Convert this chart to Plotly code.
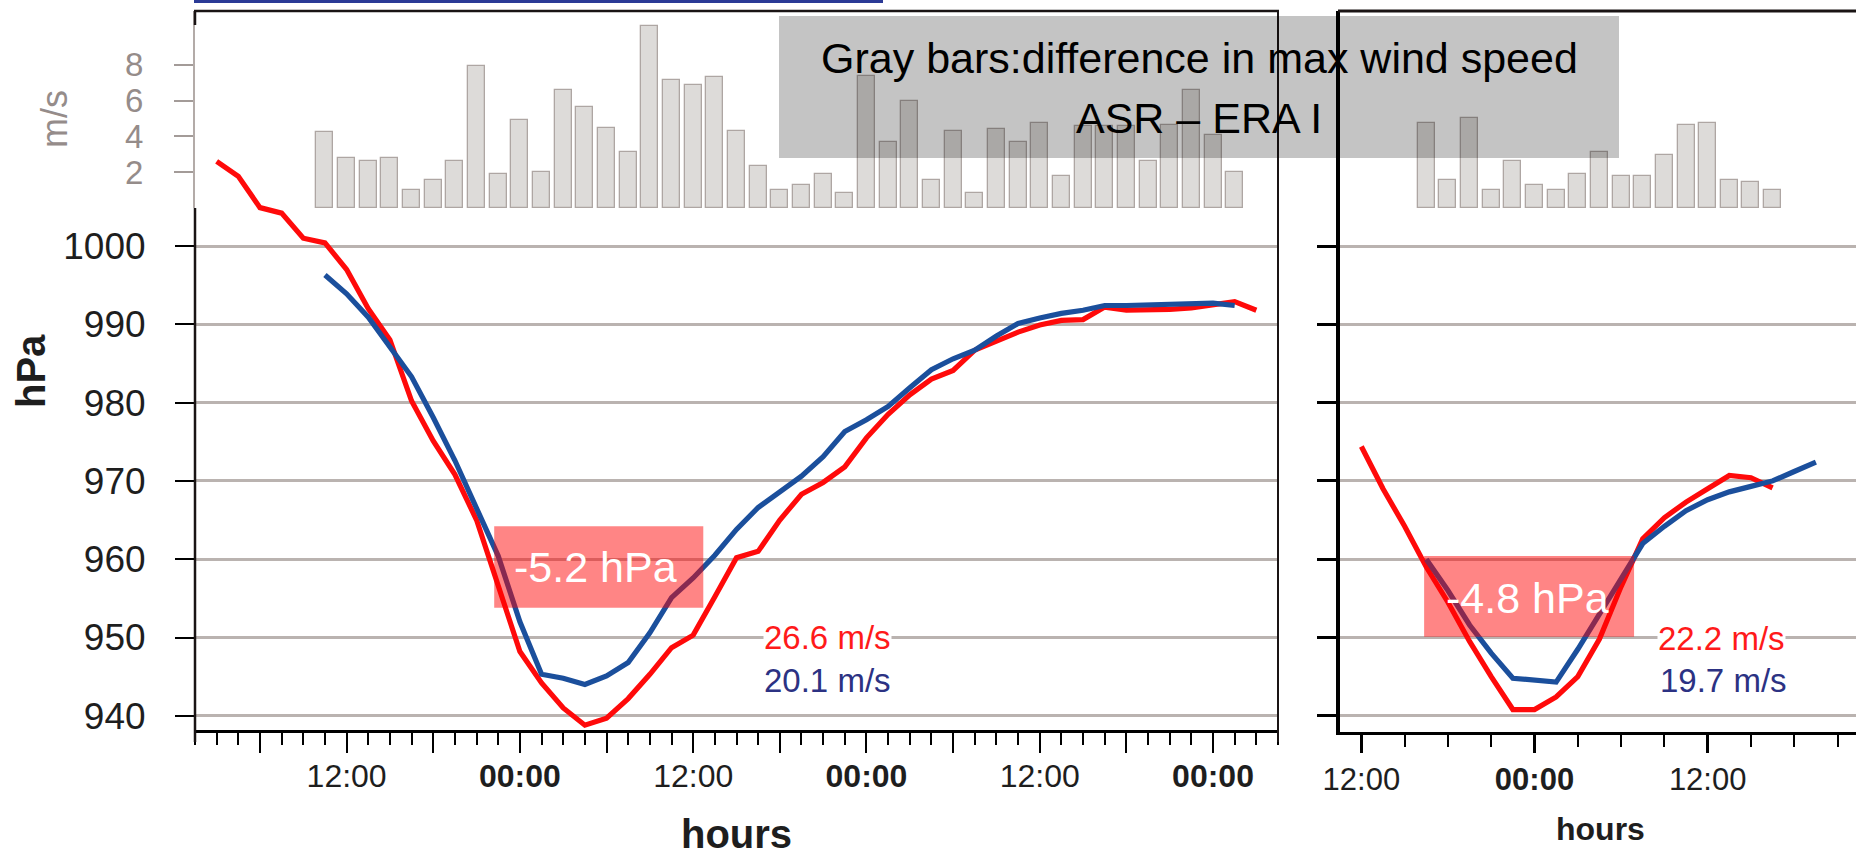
import plotly.graph_objects as go

W, H = 1856, 855
FONT = "Liberation Sans, Arial, sans-serif"

# ---------------------------------------------------------------- data
# Left storm: hours relative to the first 00:00 on the axis
red_l_hours = [-21, -19.5, -18, -16.5, -15, -13.5, -12, -10.5, -9, -7.5,
               -6, -4.5, -3, -1.5, 0, 1.5, 3, 4.5, 6, 7.5,
               9, 10.5, 12, 13.5, 15, 16.5, 18, 19.5, 21, 22.5,
               24, 25.5, 27, 28.5, 30, 31.5, 33, 34.5, 36, 37.5,
               39, 40.5, 42, 43.5, 45, 46.5, 48, 49.5, 51]
red_l_hpa = [1010.8, 1008.9, 1004.9, 1004.2, 1001.0, 1000.4, 997.0, 992.0, 988.0, 980.2,
             975.1, 970.8, 965.0, 956.5, 948.2, 944.2, 941.0, 938.8, 939.7, 942.2,
             945.3, 948.7, 950.3, 955.2, 960.2, 961.0, 965.0, 968.3, 969.8, 971.8,
             975.5, 978.5, 981.0, 983.0, 984.1, 986.7, 987.8, 989.0, 989.9, 990.5,
             990.6, 992.2, 991.8, 991.8, 991.9, 992.1, 992.5, 992.9, 991.8]

blue_l_hours = [-13.5, -12, -10.5, -9, -7.5, -6, -4.5, -3, -1.5, 0,
                1.5, 3, 4.5, 6, 7.5, 9, 10.5, 12, 13.5, 15,
                16.5, 18, 19.5, 21, 22.5, 24, 25.5, 27, 28.5, 30,
                31.5, 33, 34.5, 36, 37.5, 39, 40.5, 42, 43.5, 45,
                46.5, 48, 49.5]
blue_l_hpa = [996.3, 993.9, 990.9, 987.2, 983.3, 978.1, 972.6, 966.5, 960.4, 952.0,
              945.3, 944.8, 944.0, 945.1, 946.8, 950.6, 955.1, 957.6, 960.5, 963.8,
              966.6, 968.6, 970.6, 973.1, 976.3, 977.8, 979.5, 981.9, 984.2, 985.6,
              986.7, 988.5, 990.1, 990.8, 991.4, 991.8, 992.4, 992.4, 992.5, 992.6,
              992.7, 992.7, 992.4]

# max wind speed difference ASR - ERA I (m/s), same times as the blue series
bars_l = [4.23, 2.77, 2.64, 2.77, 0.99, 1.58, 2.64, 7.91, 1.90, 4.90,
          2.03, 6.57, 5.66, 4.45, 3.11, 10.15, 7.17, 6.85, 7.30, 4.28,
          2.33, 0.99, 1.28, 1.90, 0.84, 7.39, 3.67, 5.96, 1.58, 4.28,
          0.84, 4.43, 3.69, 4.75, 1.77, 4.56, 4.56, 4.56, 2.64, 4.66,
          6.57, 4.10, 1.99]

# Right storm
red_r_hours = [-12, -10.5, -9, -7.5, -6, -4.5, -3, -1.5, 0, 1.5,
               3, 4.5, 6, 7.5, 9, 10.5, 12, 13.5, 15, 16.5]
red_r_hpa = [974.4, 969.0, 964.2, 959.0, 954.5, 949.5, 945.0, 940.8, 940.8, 942.4,
             945.0, 949.8, 956.5, 962.6, 965.3, 967.3, 969.0, 970.7, 970.4, 969.1]

blue_r_hours = [-7.5, -6, -4.5, -3, -1.5, 0, 1.5, 3, 4.5, 6,
                7.5, 9, 10.5, 12, 13.5, 15, 16.5, 18, 19.5]
blue_r_hpa = [960.0, 956.0, 951.6, 948.0, 944.8, 944.5, 944.3, 948.5, 953.0, 957.8,
              962.0, 964.2, 966.2, 967.6, 968.6, 969.3, 970.0, 971.2, 972.4]

bar_r_hours = [-7.5, -6, -4.5, -3, -1.5, 0, 1.5, 3, 4.5, 6,
               7.5, 9, 10.5, 12, 13.5, 15, 16.5]
bars_r = [4.75, 1.58, 5.03, 0.99, 2.64, 1.28, 0.99, 1.90, 3.11, 1.77,
          1.77, 2.98, 4.62, 4.75, 1.58, 1.43, 0.99]

hpa_ticks = [940, 950, 960, 970, 980, 990, 1000]
ms_ticks = [2, 4, 6, 8]
l_major = [-18, -12, -6, 0, 6, 12, 18, 24, 30, 36, 42, 48]
l_major_text = ["", "12:00", "", "<b>00:00</b>", "", "12:00", "", "<b>00:00</b>",
                "", "12:00", "", "<b>00:00</b>"]
r_major = [-12, 0, 12]
r_major_text = ["12:00", "<b>00:00</b>", "12:00"]

RED = "#ff0a0a"
BLUE = "#1b4f9c"
BAR_FILL = "#dddbd9"
BAR_EDGE = "#aea6a3"
GRID = "#bab3b0"
MS_GRAY = "#958c8a"
INK = "#1e1e1e"

# ---------------------------------------------------------------- layout geometry (pixels)
L_X0, L_X1 = 195, 1278
R_X0 = 1340
TOP_L, TOP_R = 11, 11
BAR_BASE = 208
L_BOT, R_BOT = 730, 732
Y1000, PX_PER_HPA = 246, 7.83
PX_PER_MS = 17.9
L_T = [-22.5, 52.5]
R_T = [-13.48, 22.28]


def fx(p):
    return p / W


def fy(p):
    return 1 - p / H


def hpa_range(top, bot):
    return [1000 - (bot - Y1000) / PX_PER_HPA, 1000 + (Y1000 - top) / PX_PER_HPA]


fig = go.Figure()

# wind-difference bars
for xs, ys, xa, ya in [(blue_l_hours, bars_l, "x", "y3"), (bar_r_hours, bars_r, "x2", "y4")]:
    fig.add_trace(go.Bar(x=xs, y=ys, xaxis=xa, yaxis=ya, width=1.18,
                         marker=dict(color=BAR_FILL, line=dict(color=BAR_EDGE, width=1.3)),
                         showlegend=False))

# pressure curves
for xs, ys, col, xa, ya in [
    (red_l_hours, red_l_hpa, RED, "x", "y"),
    (blue_l_hours, blue_l_hpa, BLUE, "x", "y"),
    (red_r_hours, red_r_hpa, RED, "x2", "y2"),
    (blue_r_hours, blue_r_hpa, BLUE, "x2", "y2"),
]:
    fig.add_trace(go.Scatter(x=xs, y=ys, mode="lines", xaxis=xa, yaxis=ya,
                             line=dict(color=col, width=5.2), showlegend=False))

fig.update_layout(
    template="none",
    width=W, height=H,
    margin=dict(l=0, r=0, t=0, b=0, autoexpand=False),
    paper_bgcolor="white",
    plot_bgcolor="rgba(0,0,0,0)",
    font=dict(family=FONT, color=INK),
    bargap=0,
    xaxis=dict(domain=[fx(L_X0), fx(L_X1)], range=L_T, anchor="y", automargin=False,
               showline=True, linecolor="black", linewidth=2.5,
               showgrid=False, zeroline=False,
               tickmode="array", tickvals=l_major, ticktext=l_major_text,
               ticks="outside", ticklen=20, tickwidth=2, tickcolor="black",
               ticklabelstandoff=-4, tickfont=dict(family=FONT, size=32, color=INK),
               minor=dict(ticks="outside", dtick=1.5, tick0=0, ticklen=12,
                          tickwidth=1.5, tickcolor="black", showgrid=False)),
    yaxis=dict(domain=[fy(L_BOT), fy(TOP_L)], range=hpa_range(TOP_L, L_BOT), anchor="x",
               automargin=False, showline=False, zeroline=False,
               tickmode="array", tickvals=hpa_ticks,
               ticks="outside", ticklen=19, tickwidth=2, tickcolor="black",
               ticklabelstandoff=22,
               tickfont=dict(family=FONT, size=37, color=INK),
               showgrid=True, gridcolor=GRID, gridwidth=2.5),
    yaxis3=dict(domain=[fy(BAR_BASE), fy(TOP_L)], range=[0, (BAR_BASE - TOP_L) / PX_PER_MS],
                anchor="x", automargin=False, showline=True, linecolor="#b3aba8", linewidth=2,
                zeroline=False, showgrid=False,
                tickmode="array", tickvals=ms_ticks,
                ticks="outside", ticklen=19, tickwidth=2, tickcolor="#a39b98",
                ticklabelstandoff=24,
                tickfont=dict(family=FONT, size=33, color=MS_GRAY)),
    xaxis2=dict(domain=[fx(R_X0), 1], range=R_T, anchor="y2", automargin=False,
                showline=True, linecolor="black", linewidth=3,
                showgrid=False, zeroline=False,
                tickmode="array", tickvals=r_major, ticktext=r_major_text,
                ticks="outside", ticklen=18, tickwidth=2.5, tickcolor="black",
                ticklabelstandoff=0, tickfont=dict(family=FONT, size=31, color=INK),
                minor=dict(ticks="outside", dtick=3, tick0=0, ticklen=12,
                           tickwidth=2, tickcolor="black", showgrid=False)),
    yaxis2=dict(domain=[fy(R_BOT), fy(TOP_R)], range=hpa_range(TOP_R, R_BOT), anchor="x2",
                automargin=False, showline=True, linecolor="black", linewidth=4,
                zeroline=False,
                tickmode="array", tickvals=hpa_ticks, showticklabels=False,
                ticks="outside", ticklen=19, tickwidth=2.5, tickcolor="black",
                showgrid=True, gridcolor=GRID, gridwidth=2.5),
    yaxis4=dict(domain=[fy(BAR_BASE), fy(TOP_R)], range=[0, (BAR_BASE - TOP_R) / PX_PER_MS],
                anchor="x2", visible=False),
)

# frames and overlay boxes
shapes = [
    # thin rule across the top
    dict(type="line", xref="paper", yref="paper", x0=fx(194), x1=fx(883), y0=fy(1.5), y1=fy(1.5),
         line=dict(color="#2b3a96", width=3)),
    # left panel frame (right edge runs down past the axis like a tick)
    dict(type="line", xref="paper", yref="paper", x0=fx(194), x1=fx(1279), y0=fy(TOP_L), y1=fy(TOP_L),
         line=dict(color="#1a1414", width=2.5)),
    dict(type="line", xref="paper", yref="paper", x0=fx(1278), x1=fx(1278), y0=fy(TOP_L), y1=fy(742),
         line=dict(color="#1a1414", width=2)),
    dict(type="line", xref="paper", yref="paper", x0=fx(L_X0), x1=fx(L_X0), y0=fy(BAR_BASE), y1=fy(742),
         line=dict(color="#1a1414", width=2.5)),
    dict(type="line", xref="paper", yref="paper", x0=fx(L_X0), x1=fx(L_X0), y0=fy(TOP_L), y1=fy(25),
         line=dict(color="#1a1414", width=2.5)),
    # right panel top frame
    dict(type="line", xref="paper", yref="paper", x0=fx(1338), x1=1, y0=fy(TOP_R), y1=fy(TOP_R),
         line=dict(color="#1a1414", width=3)),
    # caption box
    dict(type="rect", xref="paper", yref="paper", x0=fx(779), x1=fx(1619), y0=fy(158), y1=fy(16),
         fillcolor="rgba(0,0,0,0.23)", line=dict(width=0), layer="above"),
    # pressure-difference boxes
    dict(type="rect", xref="x", yref="y", x0=-1.78, x1=12.7, y0=953.8, y1=964.2,
         fillcolor="rgba(255,0,0,0.48)", line=dict(width=0), layer="above"),
    dict(type="rect", xref="x2", yref="y2", x0=-7.65, x1=6.9, y0=950.1, y1=960.4,
         fillcolor="rgba(255,0,0,0.48)", line=dict(width=0), layer="above"),
]
fig.update_layout(shapes=shapes)

ann = [
    dict(text="Gray bars:difference in max wind speed", x=fx(1199), y=fy(58),
         font=dict(size=43, color="black")),
    dict(text="ASR \u2013 ERA I", x=fx(1199), y=fy(118),
         font=dict(size=43, color="black")),
    dict(text="-5.2 hPa", x=fx(595), y=fy(567),
         font=dict(size=43, color="white")),
    dict(text="-4.8 hPa", x=fx(1527), y=fy(598),
         font=dict(size=43, color="white")),
    dict(text="26.6 m/s", x=fx(763), y=fy(637), xanchor="left", bgcolor="white",
         font=dict(size=33, color="#ff1a1a")),
    dict(text="20.1 m/s", x=fx(763), y=fy(680), xanchor="left",
         font=dict(size=33, color="#2c3283")),
    dict(text="22.2 m/s", x=fx(1657), y=fy(638), xanchor="left", bgcolor="white",
         font=dict(size=33, color="#ff1a1a")),
    dict(text="19.7 m/s", x=fx(1659), y=fy(680), xanchor="left",
         font=dict(size=33, color="#2c3283")),
    dict(text="<b>hours</b>", x=fx(736), y=fy(834),
         font=dict(size=40, color=INK)),
    dict(text="<b>hours</b>", x=fx(1600), y=fy(829),
         font=dict(size=32, color=INK)),
    dict(text="<b>hPa</b>", x=fx(31), y=fy(371), textangle=-90,
         font=dict(size=40, color=INK)),
    dict(text="m/s", x=fx(54), y=fy(119), textangle=-90,
         font=dict(size=36, color=MS_GRAY)),
]
for a in ann:
    a.setdefault("xanchor", "center")
    a.update(xref="paper", yref="paper", yanchor="middle", showarrow=False, borderpad=0)
fig.update_layout(annotations=ann)

fig.write_html("out.html")
